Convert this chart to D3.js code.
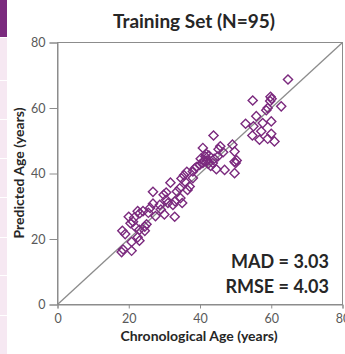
<!DOCTYPE html>
<html>
<head>
<meta charset="utf-8">
<script src="https://cdn.jsdelivr.net/npm/d3@7"></script>
<style>
  html, body { margin: 0; padding: 0; background: #fff; }
  svg { display: block; }
</style>
</head>
<body>
<svg id="chart" width="345" height="354"></svg>
<script>
// ---- data ----
const chronologicalAge = [
  18.0, 18.4, 20.8, 20.8, 23.0, 19.0, 18.2, 20.5, 21.2, 22.0, 23.0, 24.5, 25.0, 24.5, 23.1, 21.5, 22.5, 20.0, 24.0, 26.0, 26.8, 25.5, 28.7, 26.8, 27.5, 22.5,
  29.8, 30.5, 30.5, 31.0, 32.4, 32.9, 33.5, 34.3, 33.0, 34.5, 35.0, 31.7, 34.8, 35.5, 36.3, 35.8, 38.0, 37.1, 38.0, 29.0, 30.0, 36.5,
  39.9, 40.8, 40.2, 41.5, 41.0, 42.0, 40.8, 43.6, 45.0, 43.8, 45.7, 45.2, 49.1, 49.7, 44.6, 46.9, 49.7, 49.7, 50.3, 42.5, 39.0, 42.3, 44.0, 46.5, 50.0, 38.5, 41.7, 43.0,
  64.7, 54.8, 59.8, 60.1, 59.7, 62.8, 59.0, 58.6, 55.8, 60.0, 57.6, 52.8, 55.0, 57.2, 60.0, 54.7, 56.7, 59.0, 60.9
];
const predictedAge = [
  16.0, 16.8, 16.4, 19.1, 19.5, 21.5, 22.5, 24.8, 25.3, 23.5, 22.8, 23.8, 24.5, 22.5, 27.9, 26.5, 28.5, 26.8, 28.5, 29.5, 30.8, 28.0, 30.4, 34.4, 27.0, 20.5,
  33.5, 34.2, 32.0, 31.0, 30.4, 26.8, 34.5, 35.5, 31.5, 32.5, 31.0, 37.2, 38.5, 39.5, 40.5, 37.5, 38.6, 36.0, 40.6, 29.0, 27.5, 35.0,
  42.6, 43.2, 44.5, 45.2, 43.8, 44.0, 47.8, 43.2, 45.2, 51.6, 48.3, 47.4, 48.8, 46.7, 41.3, 41.1, 40.1, 43.6, 44.0, 45.5, 42.0, 43.0, 44.5, 46.5, 43.2, 41.5, 46.0, 42.3,
  68.7, 62.3, 63.4, 62.8, 62.1, 60.5, 60.0, 59.3, 57.5, 55.9, 55.4, 55.2, 54.4, 52.9, 52.1, 51.6, 50.3, 50.6, 49.8
];
const xTicks = [0, 20, 40, 60, 80];
const yTicks = [0, 20, 40, 60, 80];
const titleText = "Training Set (N=95)";
const xTitle = "Chronological Age (years)";
const yTitle = "Predicted Age (years)";
const statLines = ["MAD = 3.03", "RMSE = 4.03"];
const sidebarDividers = [80, 119, 158, 197, 237, 275, 315];

// ---- layout ----
const svg = d3.select("#chart");
const purple = "#7B2A7E";
const font = "Lato, 'Open Sans', sans-serif";
const plotLeft = 57.5, plotRight = 342.5, plotTop = 42.5, plotBottom = 304.5;

const x = d3.scaleLinear().domain([0, 80]).range([plotLeft, plotRight]);
const y = d3.scaleLinear().domain([0, 80]).range([plotBottom, plotTop]);

// sidebar decoration
svg.append("rect").attr("x", 0).attr("y", 0).attr("width", 7).attr("height", 37).attr("fill", purple);
svg.append("rect").attr("x", 0).attr("y", 38).attr("width", 7).attr("height", 316).attr("fill", "#F6E8F2");
svg.selectAll("line.div").data(sidebarDividers).join("line")
  .attr("x1", 0).attr("x2", 7).attr("y1", d => d + 0.5).attr("y2", d => d + 0.5)
  .attr("stroke", "#ffffff").attr("stroke-width", 1);

// frame
svg.append("rect")
  .attr("x", plotLeft).attr("y", plotTop).attr("width", plotRight - plotLeft).attr("height", plotBottom - plotTop)
  .attr("fill", "none").attr("stroke", "#8c8c8c").attr("stroke-width", 1);

// axes
const xAxis = svg.append("g").attr("transform", `translate(0,${plotBottom})`)
  .call(d3.axisBottom(x).tickValues(xTicks).tickSize(4).tickPadding(6).tickFormat(d3.format("d")));
const yAxis = svg.append("g").attr("transform", `translate(${plotLeft},0)`)
  .call(d3.axisLeft(y).tickValues(yTicks).tickSize(8).tickPadding(4).tickFormat(d3.format("d")));
[xAxis, yAxis].forEach(g => {
  g.select(".domain").attr("stroke", "#8c8c8c");
  g.selectAll(".tick line").attr("stroke", "#8c8c8c");
  g.selectAll(".tick text").attr("fill", "#595959").attr("font-family", font).attr("font-size", 12.5);
});

// identity line
svg.append("line")
  .attr("x1", x(0)).attr("y1", y(0)).attr("x2", x(80)).attr("y2", y(80))
  .attr("stroke", "#8c8c8c").attr("stroke-width", 1.3);

// points
const diamond = d3.symbol().type(d3.symbolSquare).size(42);
svg.append("g").selectAll("path").data(chronologicalAge.map((d, i) => [d, predictedAge[i]])).join("path")
  .attr("d", diamond)
  .attr("transform", d => `translate(${x(d[0])},${y(d[1])}) rotate(45)`)
  .attr("fill", "none").attr("stroke", purple).attr("stroke-width", 1.4);

// title
svg.append("text").attr("x", 194).attr("y", 28).attr("text-anchor", "middle")
  .attr("font-family", font).attr("font-weight", "bold").attr("font-size", 19).attr("fill", "#262626")
  .text(titleText);

// axis titles
svg.append("text").attr("x", 199).attr("y", 341).attr("text-anchor", "middle")
  .attr("font-family", font).attr("font-weight", "bold").attr("font-size", 14).attr("fill", "#262626")
  .text(xTitle);
svg.append("text").attr("transform", "translate(24,173) rotate(-90)").attr("text-anchor", "middle")
  .attr("font-family", font).attr("font-weight", "bold").attr("font-size", 14).attr("fill", "#262626")
  .text(yTitle);

// stats
svg.selectAll("text.stat").data(statLines).join("text")
  .attr("x", 329).attr("y", (d, i) => 268 + i * 24.5).attr("text-anchor", "end")
  .attr("font-family", font).attr("font-weight", "bold").attr("font-size", 18).attr("fill", "#262626")
  .text(d => d);
</script>
</body>
</html>
